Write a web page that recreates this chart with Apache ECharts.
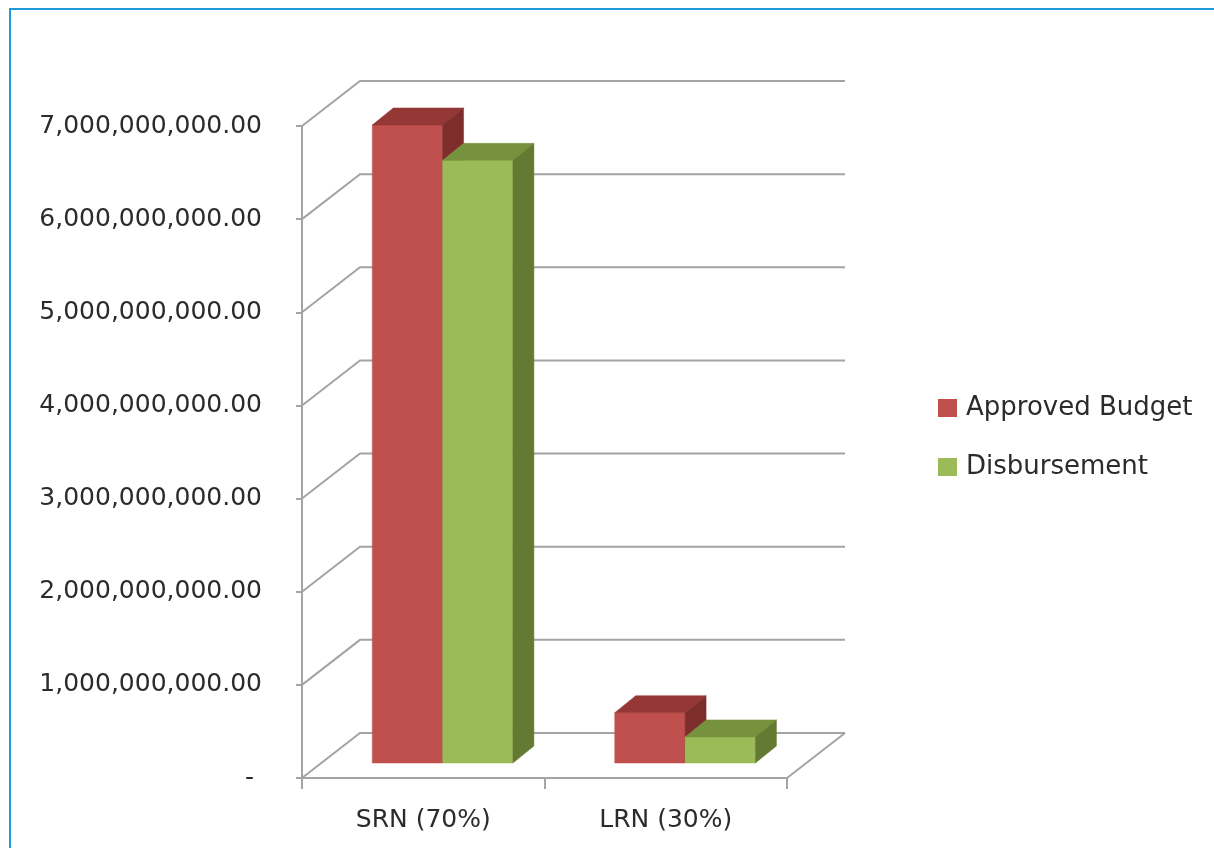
<!DOCTYPE html>
<html><head><meta charset="utf-8">
<script src="https://cdn.jsdelivr.net/npm/echarts@6/dist/echarts.min.js"></script>
<style>html,body{margin:0;padding:0;background:#fff}#c{width:1214px;height:848px}</style>
</head><body><div id="c"></div>
<script>
// ---- data ----
const categories = ['SRN (70%)', 'LRN (30%)'];
const seriesNames = ['Approved Budget', 'Disbursement'];
const approvedBudget = [6850000000, 540000000];
const disbursement = [6470000000, 280000000];
const yTicks = [0, 1000000000, 2000000000, 3000000000, 4000000000, 5000000000, 6000000000, 7000000000];

// ---- style ----
const FRONT = ['#C0504D', '#9BBB59'];
const TOPC = ['#953735', '#76923C'];
const SIDE = ['#7D2E2C', '#637A32'];
const WALL_DX = 58, WALL_DY = -45;
const BAR_DX = 21, BAR_DY = -17;
const BAR_SHIFT = 1 / 3;
const BAR_FRAC = 0.29;
const GRID_COLOR = '#a4a4a4';
const FONT = 'DejaVu Sans';
const TXT = '#2b2b2b';

function fmt(v) {
  if (v === 0) return '- ';
  const s = Math.round(v).toString().replace(/\B(?=(\d{3})+(?!\d))/g, ',');
  return s + '.00';
}

function wallItem(params, api) {
  const v = api.value(1);
  const cs = params.coordSys;
  const y = api.coord([0, v])[1];
  const xL = cs.x, xR = cs.x + cs.width;
  const children = [{
    type: 'polyline',
    shape: { points: [[xL, y], [xL + WALL_DX, y + WALL_DY], [xR + WALL_DX, y + WALL_DY]] },
    style: { stroke: GRID_COLOR, lineWidth: 2, fill: null }
  }];
  if (v === 0) {
    children.push({
      type: 'line',
      shape: { x1: xR, y1: y, x2: xR + WALL_DX, y2: y + WALL_DY },
      style: { stroke: GRID_COLOR, lineWidth: 2 }
    });
  }
  return { type: 'group', children };
}

function barItem(si) {
  return function (params, api) {
    const cat = api.value(0), val = api.value(1);
    const top = api.coord([cat, val]);
    const base = api.coord([cat, 0]);
    const band = api.size([1, 0])[0];
    const w = band * BAR_FRAC;
    const x0 = top[0] + (si === 0 ? -w : 0) + WALL_DX * BAR_SHIFT;
    const x1 = x0 + w;
    const yT = top[1] + WALL_DY * BAR_SHIFT;
    const yB = base[1] + WALL_DY * BAR_SHIFT;
    return {
      type: 'group',
      children: [
        { type: 'polygon', shape: { points: [[x0, yT], [x1, yT], [x1, yB], [x0, yB]] },
          style: { fill: FRONT[si], stroke: FRONT[si], lineWidth: 0.5 } },
        { type: 'polygon', shape: { points: [[x0, yT], [x1, yT], [x1 + BAR_DX, yT + BAR_DY], [x0 + BAR_DX, yT + BAR_DY]] },
          style: { fill: TOPC[si], stroke: TOPC[si], lineWidth: 0.5 } },
        { type: 'polygon', shape: { points: [[x1, yT], [x1 + BAR_DX, yT + BAR_DY], [x1 + BAR_DX, yB + BAR_DY], [x1, yB]] },
          style: { fill: SIDE[si], stroke: SIDE[si], lineWidth: 0.5 } }
      ]
    };
  };
}

const chart = echarts.init(document.getElementById('c'), null, { renderer: 'canvas' });
chart.setOption({
  animation: false,
  backgroundColor: '#ffffff',
  graphic: [{
    type: 'rect', shape: { x: 10, y: 9, width: 1220, height: 900 },
    style: { fill: null, stroke: '#1f9bd9', lineWidth: 2 }, z: 100
  }],
  grid: { left: 302, right: 427, top: 126, bottom: 70 },
  legend: {
    orient: 'vertical', left: 933, top: 390,
    icon: 'rect', itemWidth: 19, itemHeight: 18, itemGap: 33,
    textStyle: { fontSize: 26, fontFamily: FONT, color: TXT, padding: [0, 0, 0, 4] },
    data: [
      { name: seriesNames[0], itemStyle: { color: FRONT[0] } },
      { name: seriesNames[1], itemStyle: { color: FRONT[1] } }
    ]
  },
  xAxis: {
    type: 'category', data: categories,
    axisLine: { show: true, lineStyle: { color: GRID_COLOR, width: 2 } },
    axisTick: { show: true, length: 11, lineStyle: { color: GRID_COLOR, width: 2 } },
    axisLabel: { fontSize: 25, fontFamily: FONT, color: TXT, margin: 30 },
    splitLine: { show: false }
  },
  yAxis: {
    type: 'value', min: yTicks[0], max: yTicks[yTicks.length - 1], interval: yTicks[1] - yTicks[0],
    axisLine: { show: true, lineStyle: { color: GRID_COLOR, width: 2 } },
    axisTick: { show: true, length: 6, lineStyle: { color: GRID_COLOR, width: 2 } },
    axisLabel: { fontSize: 25, fontFamily: FONT, color: TXT, margin: 40, padding: [14, 0, 0, 0], formatter: fmt },
    splitLine: { show: false }
  },
  series: [
    { type: 'custom', name: 'walls', renderItem: wallItem, z: 1, silent: true,
      data: yTicks.map(v => [0, v]) },
    { type: 'custom', name: seriesNames[0], renderItem: barItem(0), z: 2,
      itemStyle: { color: FRONT[0] }, data: approvedBudget.map((v, i) => [i, v]) },
    { type: 'custom', name: seriesNames[1], renderItem: barItem(1), z: 3,
      itemStyle: { color: FRONT[1] }, data: disbursement.map((v, i) => [i, v]) }
  ]
});
</script>
</body></html>
